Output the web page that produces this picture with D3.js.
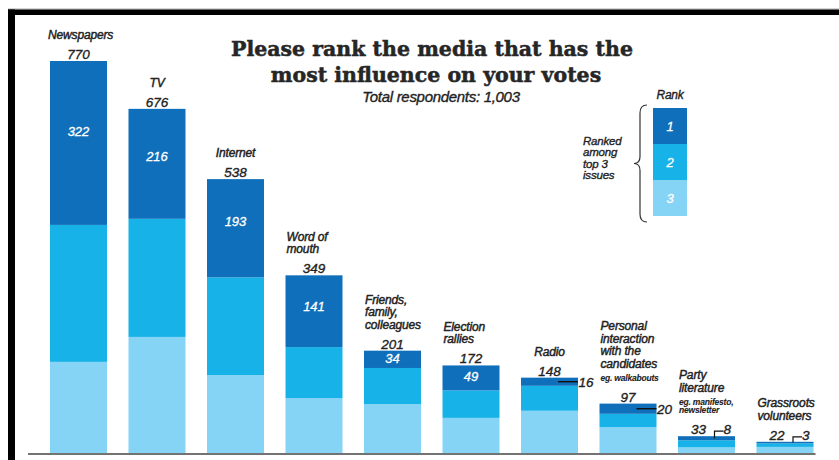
<!DOCTYPE html>
<html>
<head>
<meta charset="utf-8">
<script src="https://d3js.org/d3.v7.min.js"></script>
<style>
  body { margin: 0; background: #fff; }
  svg { display: block; }
  .lbl { font-family: "Liberation Sans", Arial, sans-serif; font-style: italic; fill: #222; stroke: #222; stroke-width: 0.35px; }
  .wht { fill: #fff; stroke: #fff; stroke-width: 0.3px; }
  .title { font-family: "DejaVu Serif", serif; font-weight: bold; fill: #262626; stroke: #262626; stroke-width: 0.5px; }
</style>
</head>
<body>
<svg id="chart"></svg>
<script>
  // data
  var categories = ["Newspapers", "TV", "Internet", "Word of\nmouth", "Friends,\nfamily,\ncolleagues",
                    "Election\nrallies", "Radio", "Personal\ninteraction\nwith the\ncandidates",
                    "Party\nliterature", "Grassroots\nvolunteers"];
  var notes = ["", "", "", "", "", "", "", "eg. walkabouts", "eg. manifesto,\nnewsletter", ""];
  var totals = [770, 676, 538, 349, 201, 172, 148, 97, 33, 22];
  var rank1 = [322, 216, 193, 141, 34, 49, 16, 20, 8, 3];
  var rank2 = [269, 232, 192, 100, 71, 54, 49, 26, 14, 7];
  var rank3 = [179, 228, 153, 108, 96, 69, 83, 51, 11, 12];
  var rankNames = ["1", "2", "3"];
  var colors = ["#0f6fba", "#17b2e7", "#85d3f5"];

  var w = 839, h = 460;

  var svg = d3.select("#chart").attr("width", w).attr("height", h);
  svg.append("rect").attr("width", w).attr("height", h).attr("fill", "#fff");

  // frame
  svg.append("line").attr("x1", 8).attr("x2", w).attr("y1", 9).attr("y2", 9)
     .attr("stroke", "#aaa").attr("stroke-width", 1);
  svg.append("rect").attr("x", 8).attr("y", 9.5).attr("width", w - 8).attr("height", 5.5).attr("fill", "#000");
  svg.append("rect").attr("x", 8).attr("y", 9.5).attr("width", 7).attr("height", h).attr("fill", "#000");

  var rows = categories.map(function(c, i) {
    return {cat: c, r1: rank1[i], r2: rank2[i], r3: rank3[i], total: totals[i], note: notes[i]};
  });

  var x = d3.scaleBand().domain(categories).range([50, 813.5]).paddingInner(0.274).paddingOuter(0);
  var y = d3.scaleLinear().domain([0, 770]).range([453, 61]);

  var stack = d3.stack().keys(["r3", "r2", "r1"]);
  var series = stack(rows);
  var colorOf = {r1: colors[0], r2: colors[1], r3: colors[2]};

  svg.append("g").selectAll("g")
    .data(series)
    .enter().append("g")
      .attr("fill", function(s) { return colorOf[s.key]; })
    .selectAll("rect")
    .data(function(s) { return s; })
    .enter().append("rect")
      .attr("x", function(d) { return x(d.data.cat); })
      .attr("width", x.bandwidth())
      .attr("y", function(d) { return y(d[1]); })
      .attr("height", function(d) { return y(d[0]) - y(d[1]); });

  // baseline
  svg.append("line")
    .attr("x1", 28).attr("x2", x.range()[1] + 2)
    .attr("y1", y(0) + 1).attr("y2", y(0) + 1)
    .attr("stroke", "#444").attr("stroke-width", 1.6);

  var bw = x.bandwidth();

  rows.forEach(function(d) {
    var x0 = x(d.cat), xc = x0 + bw / 2;
    var top = y(d.total);
    var small = (y(0) - top) < 25;
    var seg1 = y(d.r2 + d.r3) - top;

    // total
    var totalBase = top - 2;
    svg.append("text").attr("class", "lbl")
      .attr("x", small ? xc - 8 : xc).attr("y", totalBase)
      .attr("text-anchor", "middle").style("font-size", "13.5px")
      .text(d.total);

    // category name (+ note)
    var lines = d.cat.split("\n");
    var noteLines = d.note ? d.note.split("\n") : [];
    var lastBase;
    if (noteLines.length) {
      var noteLast = totalBase - 21;
      var noteFirst = noteLast - (noteLines.length - 1) * 8.5;
      noteLines.forEach(function(t, k) {
        svg.append("text").attr("class", "lbl")
          .attr("x", x0 + 1).attr("y", noteFirst + k * 8.5)
          .style("font-size", "8.5px").style("font-weight", "bold").style("letter-spacing", "-0.2px")
          .style("stroke-width", "0.1px")
          .text(t);
      });
      lastBase = noteFirst - 13;
    } else {
      lastBase = totalBase - 20;
    }
    var single = lines.length === 1;
    var tx = svg.append("text").attr("class", "lbl")
      .style("font-size", "12px").style("letter-spacing", "-0.15px").style("stroke-width", "0.45px");
    lines.forEach(function(t, k) {
      tx.append("tspan")
        .attr("x", x0 + 1)
        .attr("y", lastBase - (lines.length - 1 - k) * 12.5)
        .text(t);
    });
    if (single && tx.node().getComputedTextLength() < bw) {
      tx.selectAll("tspan").attr("x", xc);
      tx.attr("text-anchor", "middle");
    } else if (single) {
      tx.selectAll("tspan").attr("x", x0 - 2);
    }

    // rank 1 value
    if (seg1 >= 15) {
      svg.append("text").attr("class", "lbl wht")
        .attr("x", xc).attr("y", top + Math.max(seg1 * 0.43, 8) + 4.5)
        .attr("text-anchor", "middle").style("font-size", "13px")
        .text(d.r1);
    } else if (!small) {
      var ly = top + seg1 / 2;
      svg.append("line")
        .attr("x1", x0 + bw - 20).attr("x2", x0 + bw)
        .attr("y1", ly).attr("y2", ly)
        .attr("stroke", "#111").attr("stroke-width", 1.4);
      svg.append("text").attr("class", "lbl")
        .attr("x", x0 + bw + 0.5).attr("y", ly + 5)
        .style("font-size", "13.5px")
        .text(d.r1);
    } else {
      var by = top + seg1 / 2, bx = xc + 8, hy = top - 5;
      svg.append("path")
        .attr("d", "M" + bx + "," + by + "V" + hy + "H" + (bx + 9))
        .attr("fill", "none").attr("stroke", "#111").attr("stroke-width", 1.2);
      svg.append("text").attr("class", "lbl")
        .attr("x", bx + 9).attr("y", hy + 3)
        .style("font-size", "13.5px")
        .text(d.r1);
    }
  });

  // title
  svg.append("text").attr("class", "title")
    .attr("x", 432).attr("y", 56).attr("text-anchor", "middle")
    .style("font-size", "20.5px")
    .text("Please rank the media that has the");
  svg.append("text").attr("class", "title")
    .attr("x", 436).attr("y", 82).attr("text-anchor", "middle")
    .style("font-size", "20.5px")
    .text("most influence on your votes");
  svg.append("text").attr("class", "lbl")
    .attr("x", 441).attr("y", 102).attr("text-anchor", "middle")
    .style("font-size", "15px").style("letter-spacing", "-0.3px")
    .text("Total respondents: 1,003");

  // legend
  var ly0 = 108, lx = 653, lw = 34;
  var ls = d3.scaleBand().domain(rankNames).range([ly0, 216]);
  var lg = svg.append("g");
  lg.selectAll("rect").data(rankNames).enter().append("rect")
    .attr("x", lx).attr("width", lw)
    .attr("y", function(r) { return ls(r); })
    .attr("height", ls.bandwidth())
    .attr("fill", function(r, i) { return colors[i]; });
  lg.selectAll("text.num").data(rankNames).enter().append("text")
    .attr("class", "lbl wht num")
    .attr("x", lx + lw / 2)
    .attr("y", function(r) { return ls(r) + ls.bandwidth() / 2 + 4.5; })
    .attr("text-anchor", "middle").style("font-size", "13px")
    .text(function(r) { return r; });
  lg.append("text").attr("class", "lbl")
    .attr("x", lx + lw / 2).attr("y", 99).attr("text-anchor", "middle")
    .style("font-size", "12px").style("letter-spacing", "-0.3px")
    .text("Rank");
  ["Ranked", "among", "top 3", "issues"].forEach(function(t, k) {
    lg.append("text").attr("class", "lbl")
      .attr("x", 583).attr("y", 145 + k * 11.3)
      .style("font-size", "11.5px").style("letter-spacing", "-0.2px")
      .text(t);
  });
  var bt = 105, bb = 222, bm = (bt + bb) / 2, bxr = 647, bxm = 640, bxt = 634;
  lg.append("path")
    .attr("d", "M" + bxr + "," + bt + " Q" + bxm + "," + bt + " " + bxm + "," + (bt + 8) +
               " L" + bxm + "," + (bm - 7) + " Q" + bxm + "," + bm + " " + bxt + "," + bm +
               " Q" + bxm + "," + bm + " " + bxm + "," + (bm + 7) +
               " L" + bxm + "," + (bb - 8) + " Q" + bxm + "," + bb + " " + bxr + "," + bb)
    .attr("fill", "none").attr("stroke", "#333").attr("stroke-width", 1.2);
</script>
</body>
</html>
